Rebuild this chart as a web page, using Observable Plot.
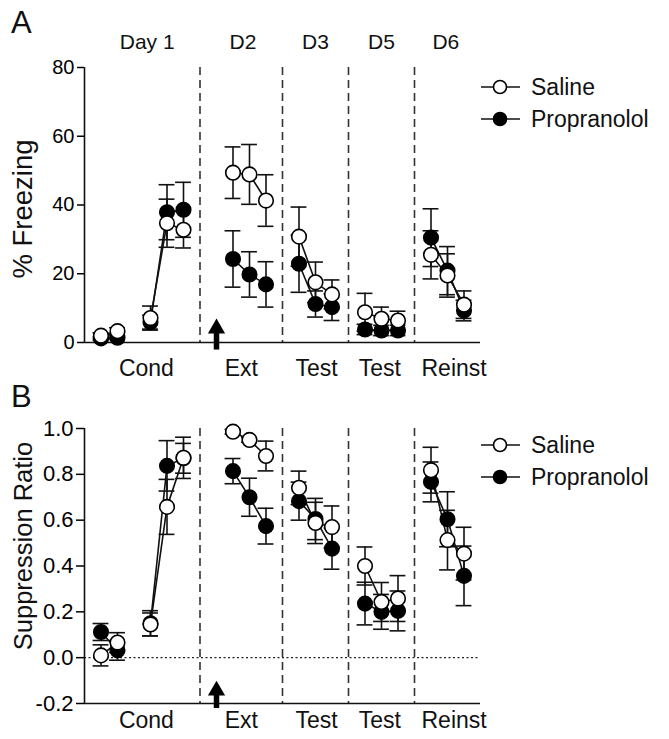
<!DOCTYPE html>
<html><head><meta charset="utf-8">
<script src="https://cdn.jsdelivr.net/npm/d3@7"></script>
<script src="https://cdn.jsdelivr.net/npm/@observablehq/plot@0.6"></script>
<style>
body{margin:0;background:#fff;font-family:"Liberation Sans",Arial,sans-serif;}
#wrap{position:relative;width:669px;height:739px;background:#fff}
#wrap > svg{display:block}
#overlay{position:absolute;left:0;top:0}
</style></head><body><div id="wrap"></div>
<script>
// session positions along x (gaps separate days)
const positions = [0,1,3,4,5, 8,9,10, 12,13,14, 16,17,18, 20,21,22];
const sessions  = ["C1","C1","C2","C2","C2","Ext","Ext","Ext","T3","T3","T3","T5","T5","T5","R","R","R"];
const dividers = [6, 11, 15, 19];
const dayLabels = ["Day 1","D2","D3","D5","D6"];
const dayPos = [2.8, 8.6, 13, 17, 20.9];
const phaseLabels = ["Cond","Ext","Test","Test","Reinst"];
const phasePos = [2.75, 8.5, 13.07, 16.9, 21.4];
const arrowX = 7;

// Panel A: % Freezing
const freezeSaline    = [2, 3.3, 7.1, 34.7, 32.8, 49.4, 48.9, 41.3, 30.8, 17.5, 14, 8.8, 6.9, 6.4, 25.5, 19.5, 11];
const freezeSalineErr = [0.8, 1, 3.5, 7, 5.3, 7.5, 8.7, 7.5, 8.6, 5.9, 4.2, 5.5, 3.4, 2.7, 7, 6.3, 4];
const freezeProp      = [1.2, 1.4, 5.9, 37.9, 38.6, 24.3, 19.8, 16.9, 22.9, 11.2, 10.3, 3.8, 3.5, 3.5, 30.5, 20.9, 9.3];
const freezePropErr   = [0.5, 0.5, 2, 8, 8, 8.2, 6.6, 6.6, 8.3, 3.8, 3.9, 1.5, 1.5, 1.5, 8.4, 7, 3];
const freezeTicks = [0, 20, 40, 60, 80];

// Panel B: Suppression Ratio
const suppSaline    = [0.01, 0.066, 0.145, 0.658, 0.872, 0.986, 0.95, 0.88, 0.741, 0.588, 0.57, 0.40, 0.243, 0.258, 0.818, 0.513, 0.454];
const suppSalineErr = [0.046, 0.043, 0.05, 0.12, 0.09, 0.01, 0.01, 0.065, 0.073, 0.09, 0.092, 0.083, 0.085, 0.1, 0.1, 0.13, 0.115];
const suppProp      = [0.112, 0.032, 0.15, 0.837, 0.87, 0.814, 0.70, 0.574, 0.683, 0.605, 0.476, 0.236, 0.2, 0.204, 0.767, 0.604, 0.357];
const suppPropErr   = [0.037, 0.043, 0.055, 0.11, 0.065, 0.055, 0.083, 0.078, 0.083, 0.09, 0.09, 0.093, 0.076, 0.087, 0.087, 0.12, 0.13];
const suppTicks = [-0.2, 0, 0.2, 0.4, 0.6, 0.8, 1.0];

const FONT = "Liberation Sans, Arial, sans-serif";

function rows(vals, errs) {
  return positions.map((p, i) => ({x: p, g: sessions[i], v: vals[i], e: errs[i]}));
}

function panel({sal, prop, domain, ticks, fmt, label, labelSize, tickFont, tickLen, height, mt, mb, labelDy, phaseDy, showDays, arrow}) {
  const capW = 0.48;
  const errMarks = (d) => [
    Plot.ruleX(d, {x: "x", y1: r => r.v - r.e, y2: r => r.v + r.e, stroke: "#111", strokeWidth: 1.6}),
    Plot.ruleY(d, {y: r => r.v + r.e, x1: r => r.x - capW, x2: r => r.x + capW, stroke: "#111", strokeWidth: 1.6}),
    Plot.ruleY(d, {y: r => r.v - r.e, x1: r => r.x - capW, x2: r => r.x + capW, stroke: "#111", strokeWidth: 1.6})
  ];
  const days = dayLabels.map((t, i) => ({t, x: dayPos[i]}));
  const phases = phaseLabels.map((t, i) => ({t, x: phasePos[i]}));
  return Plot.plot({
    width: 669, height, marginLeft: 84, marginRight: 189, marginTop: mt, marginBottom: mb,
    style: {fontFamily: FONT, background: "white", overflow: "visible"},
    x: {domain: [-1, 23], axis: null},
    y: {domain, ticks, tickFormat: fmt, label: null},
    marks: [
      Plot.axisY({ticks, tickFormat: fmt, tickSize: tickLen, tickPadding: 3, fontSize: tickFont, label: null, strokeWidth: 1.5}),
      domain[0] < 0 ? Plot.ruleY([0], {stroke: "#222", strokeDasharray: "2,2.5", strokeWidth: 1.3}) : null,
      Plot.ruleX(dividers, {stroke: "#333", strokeWidth: 1.6, strokeDasharray: "8,5"}),
      Plot.ruleX([-1], {stroke: "#111", strokeWidth: 1.6}),
      Plot.ruleY([domain[0]], {stroke: "#111", strokeWidth: 1.6}),
      ...errMarks(prop), ...errMarks(sal),
      Plot.line(prop, {x: "x", y: "v", z: "g", stroke: "#111", strokeWidth: 1.6}),
      Plot.line(sal, {x: "x", y: "v", z: "g", stroke: "#111", strokeWidth: 1.6}),
      Plot.dot(prop, {x: "x", y: "v", r: 7.3, fill: "#000", stroke: "#000", strokeWidth: 1.5}),
      Plot.dot(sal, {x: "x", y: "v", r: 7.3, fill: "#fff", stroke: "#000", strokeWidth: 1.6}),
      // arrow marking propranolol injection
      Plot.ruleX([arrow], {x: "x", y1: "tail", y2: "base", stroke: "#000", strokeWidth: 5.5}),
      Plot.dot([arrow], {x: "x", y: "tip", dy: 10, symbol: "triangle", r: 6.4, fill: "#000", stroke: "none"}),
      Plot.text([label], {frameAnchor: "left", textAnchor: "middle", lineAnchor: "middle", rotate: -90, dx: -61, dy: labelDy, fontSize: labelSize, fill: "#111"}),
      Plot.text(phases, {x: "x", text: "t", frameAnchor: "bottom", lineAnchor: "middle", dy: phaseDy, fontSize: 23, fill: "#111"}),
      showDays ? Plot.text(days, {x: "x", text: "t", frameAnchor: "top", lineAnchor: "middle", dy: -25, fontSize: 21, fill: "#111"}) : null
    ]
  });
}

const wrap = document.getElementById("wrap");
const A = panel({
  sal: rows(freezeSaline, freezeSalineErr), prop: rows(freezeProp, freezePropErr),
  domain: [0, 80], ticks: freezeTicks, fmt: d => String(d), label: "% Freezing", labelSize: 27.5,
  tickFont: 20, tickLen: 7,
  height: 372, mt: 67, mb: 30, labelDy: 4, phaseDy: 26, showDays: true,
  arrow: {x: arrowX, tail: -2.2, base: 2.6, tip: 7}
});
const B = panel({
  sal: rows(suppSaline, suppSalineErr), prop: rows(suppProp, suppPropErr),
  domain: [-0.2, 1.0], ticks: suppTicks, fmt: d => d.toFixed(1), label: "Suppression Ratio", labelSize: 25.5,
  tickFont: 22, tickLen: 8,
  height: 367, mt: 56, mb: 36, labelDy: -20, phaseDy: 17, showDays: false,
  arrow: {x: arrowX, tail: -0.222, base: -0.163, tip: -0.1}
});
wrap.appendChild(A);
wrap.appendChild(B);

// overlay: panel letters and legends
const ov = d3.select(wrap).append("svg").attr("id", "overlay").attr("width", 669).attr("height", 739)
  .style("font-family", FONT);
const letters = [{t: "A", y: 22}, {t: "B", y: 396}];
ov.selectAll("text.letter").data(letters).join("text").attr("class", "letter")
  .attr("x", 11).attr("y", d => d.y).attr("dy", "0.36em").attr("font-size", 31).attr("fill", "#111").text(d => d.t);
const legendRows = [
  {y: 87, name: "Saline", fill: "#fff"}, {y: 119, name: "Propranolol", fill: "#000"},
  {y: 445, name: "Saline", fill: "#fff"}, {y: 477, name: "Propranolol", fill: "#000"}
];
const lg = ov.selectAll("g.lg").data(legendRows).join("g").attr("class", "lg").attr("transform", d => `translate(0,${d.y})`);
lg.append("line").attr("x1", 481).attr("x2", 520).attr("stroke", "#111").attr("stroke-width", 1.6);
lg.append("circle").attr("cx", 500).attr("r", 6.5).attr("fill", d => d.fill).attr("stroke", "#000").attr("stroke-width", 1.6);
lg.append("text").attr("x", 531).attr("dy", "0.36em").attr("font-size", 23).attr("fill", "#111").text(d => d.name);
</script></body></html>
